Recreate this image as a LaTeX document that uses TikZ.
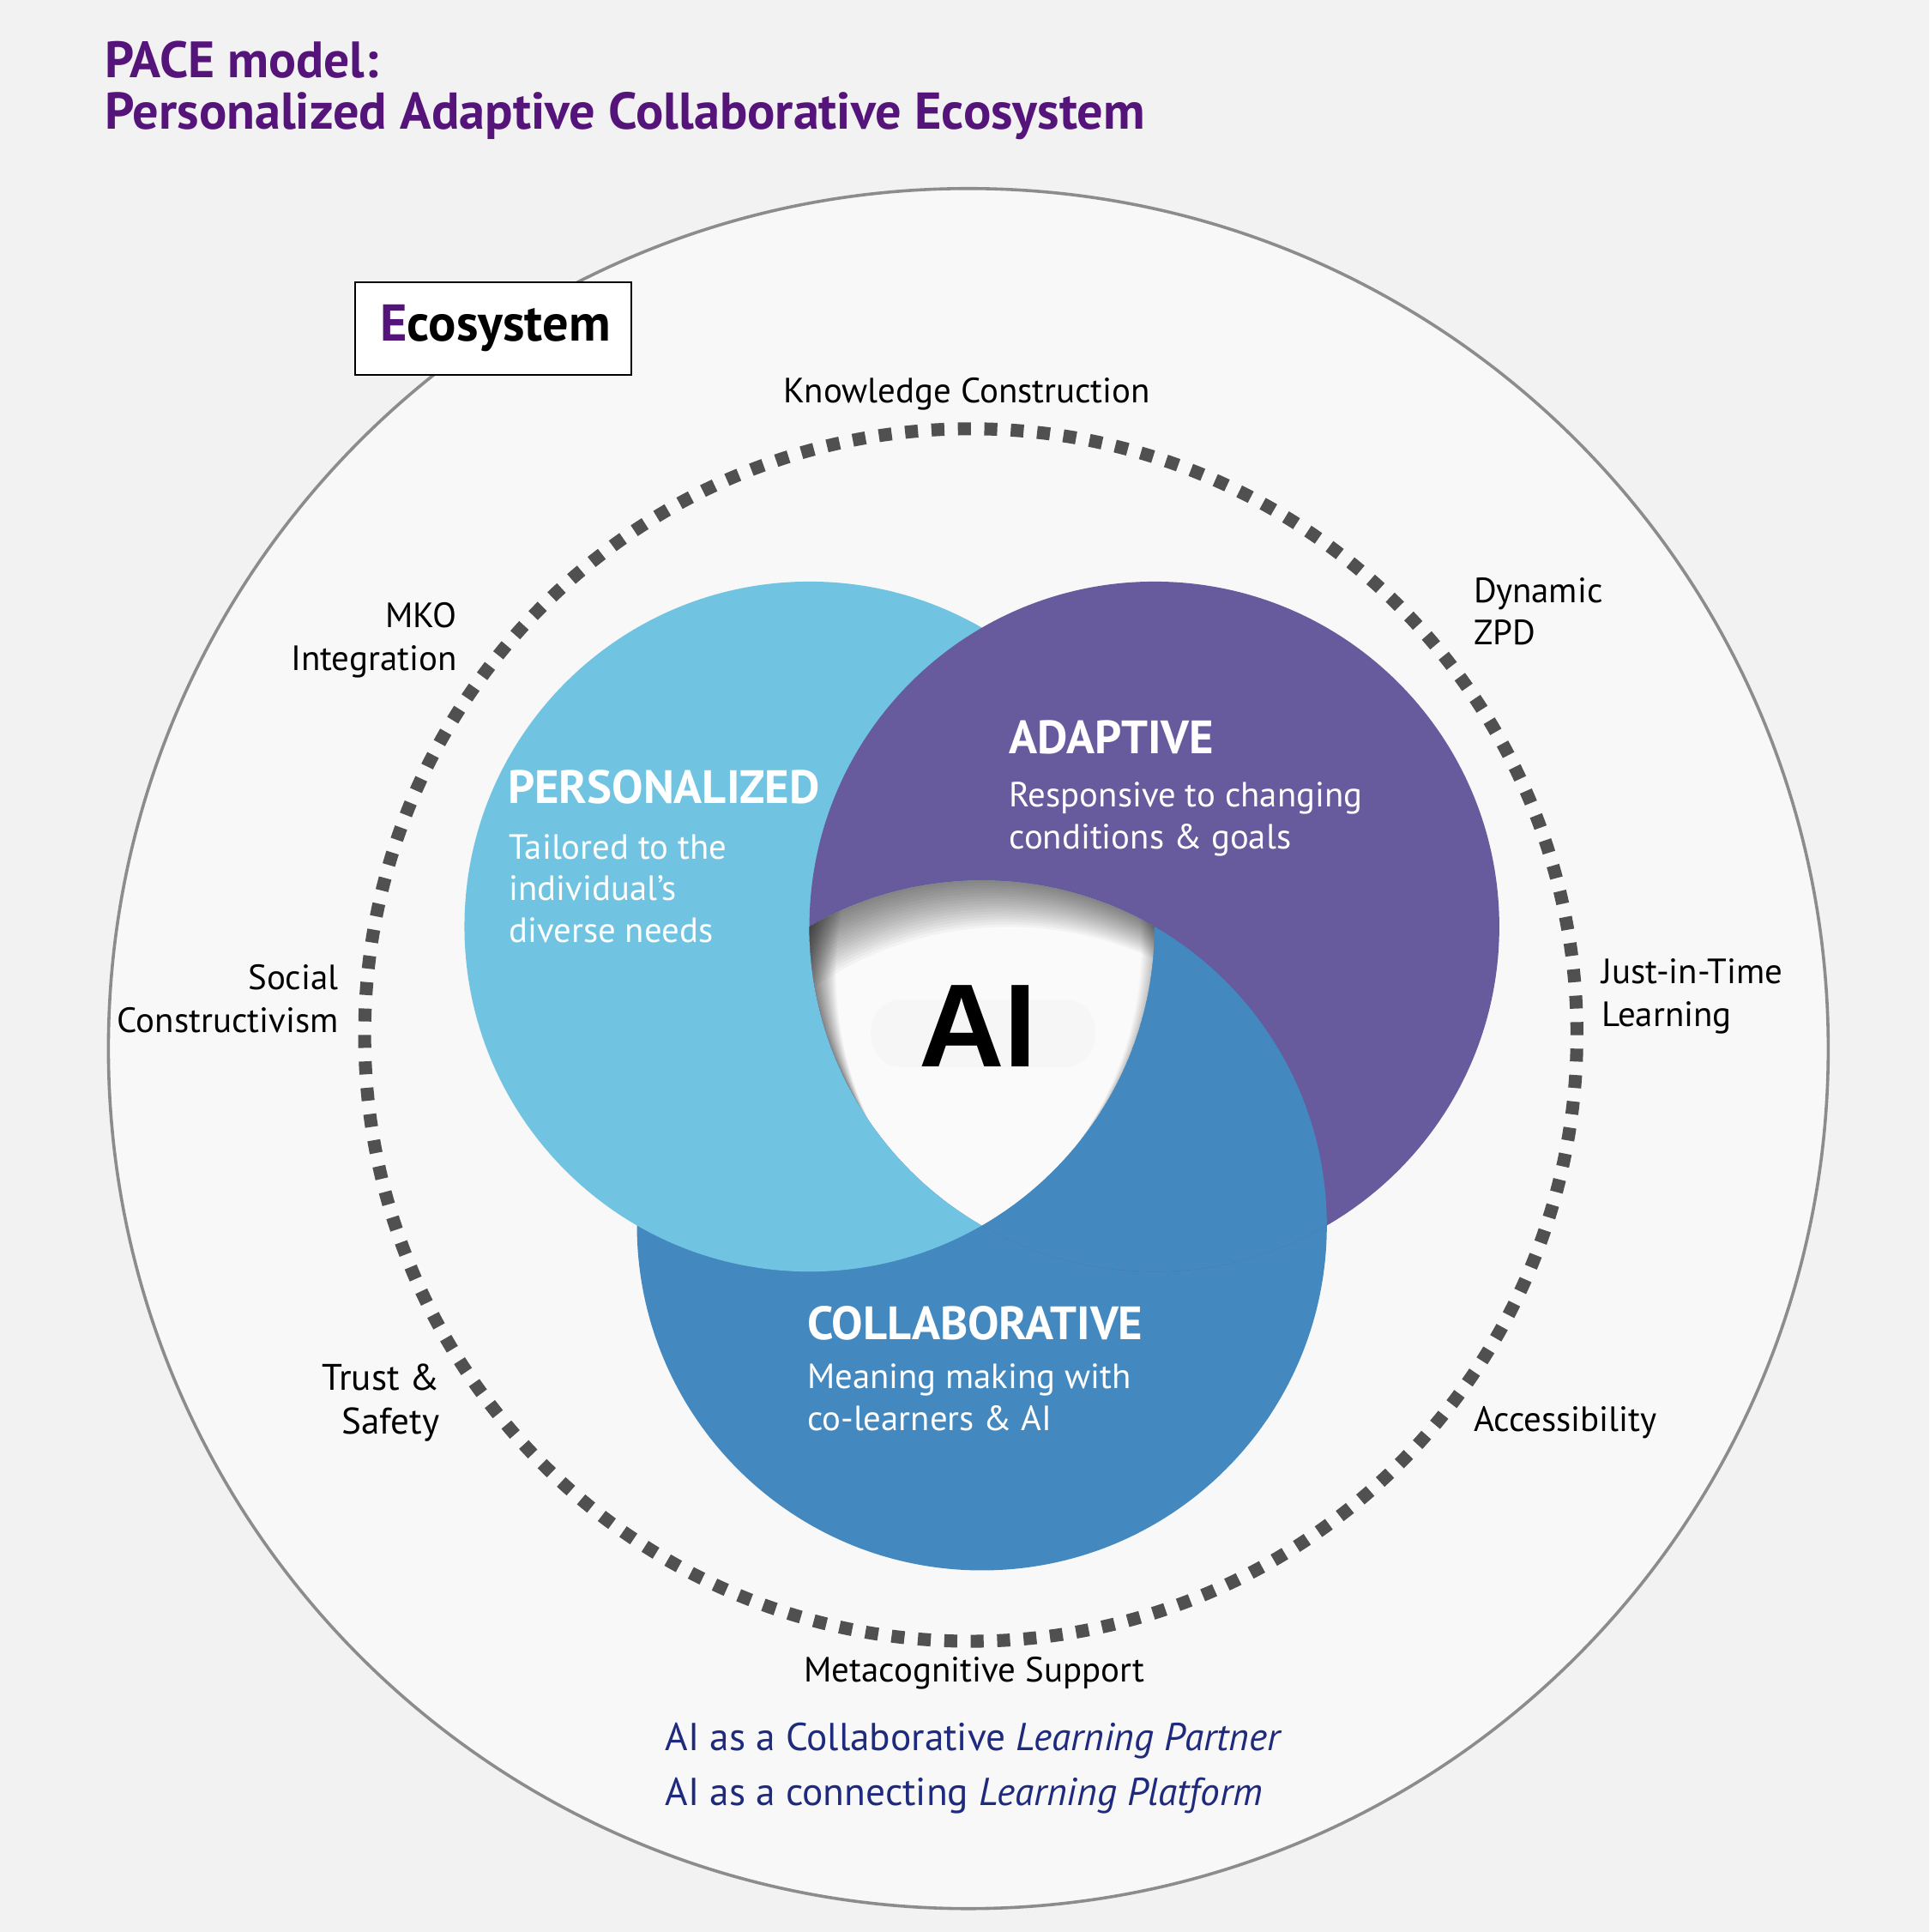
\documentclass[tikz,border=0pt]{standalone}
\usepackage{fontspec}
\setmainfont{PT Sans}
\newfontfamily\aifont{Liberation Sans}
\definecolor{bgc}{HTML}{F2F2F2}
\definecolor{ecofill}{HTML}{F8F8F8}
\definecolor{ringc}{HTML}{8C8C8C}
\definecolor{dotc}{HTML}{505050}
\definecolor{pcol}{HTML}{70C4E1}
\definecolor{acol}{HTML}{675A9D}
\definecolor{ccol}{HTML}{4388BF}
\definecolor{ttl}{HTML}{55147A}
\definecolor{navy}{HTML}{1E2A7E}
\definecolor{centerc}{HTML}{FAFAFA}
\definecolor{aibox}{HTML}{F6F6F6}
\newcommand{\fsz}[1]{\fontsize{#1}{#1}\selectfont}
\begin{document}
\begin{tikzpicture}[x=1pt,y=-1pt,
  lblW/.style={anchor=base west, inner sep=0pt, font=\fsz{28.5}, text=black},
  lblE/.style={anchor=base east, inner sep=0pt, font=\fsz{28.5}, text=black},
  lblC/.style={anchor=base, inner sep=0pt, font=\fsz{28.5}, text=black},
  head/.style={anchor=base west, inner sep=0pt, font=\bfseries\fsz{38}, text=white},
  body/.style={anchor=base west, inner sep=0pt, font=\fsz{28.4}, text=white},
  ttlstyle/.style={anchor=base west, inner sep=0pt, font=\bfseries\fsz{42}, text=ttl},
  bottomstyle/.style={anchor=base west, inner sep=0pt, font=\fsz{31.6}, text=navy},
  shadowlayer/.style={black, opacity=0.03, even odd rule}]
\fill[bgc] (0,0) rectangle (1566,1568);
\useasboundingbox (0,0) rectangle (1566,1568);
% outer ecosystem circle
\draw[ringc, line width=2.5pt, fill=ecofill] (786,851) circle (698pt);
% dotted ring
\draw[dotc, line width=10.5pt, dash pattern=on 10.5pt off 10.97pt] (788,840) circle (492pt);
% three circles
\coordinate (P) at (657,752);
\coordinate (A) at (937,752);
\coordinate (C) at (797,994.5);
\fill[ccol] (C) circle (280pt);
\fill[pcol] (P) circle (280pt);
\fill[acol] (A) circle (280pt);
\begin{scope}
  \clip (A) circle (280pt);
  \fill[ccol] (C) circle (280pt);
\end{scope}
% white centre with inner shadow
\begin{scope}
  \clip (P) circle (280pt);
  \clip (A) circle (280pt);
  \clip (C) circle (280pt);
  \fill[centerc] (600,650) rectangle (1000,1050);
  \fill[aibox, rounded corners=25pt] (707,811) rectangle (889,866);
  \foreach \s in {1,...,18}{
    \fill[shadowlayer] (560,620) rectangle (1040,1060)
      ([shift={(1.2*\s,2.1*\s)}]C) circle (280pt);
    \fill[shadowlayer] (560,620) rectangle (1040,1060)
      ([shift={(1.2*\s,2.1*\s)}]A) circle (280pt);
    \fill[shadowlayer, opacity=0.012] (560,620) rectangle (1040,1060)
      ([shift={(-0.6*\s,0.8*\s)}]P) circle (280pt);
  }
\end{scope}
% Ecosystem box
\node[draw=black, line width=1.5pt, fill=white, minimum width=224pt, minimum height=75pt, inner sep=0pt] (ecobox) at (400.5,266.5) {};
\node[anchor=base, inner sep=0pt, font=\bfseries\fsz{42}] (ecotext) at (402,277) {{\color{ttl}E}cosystem};
% title
\node[ttlstyle, font=\bfseries\fsz{41.5}] (t1) at (85,63) {PACE model:};
\node[ttlstyle] (t2) at (85,105) {Personalized Adaptive Collaborative Ecosystem};
% ring labels
\node[lblC] (kc) at (785,327) {Knowledge Construction};
\node[lblW] (dz1) at (1196,489) {Dynamic};
\node[lblW] (dz2) at (1196,523) {ZPD};
\node[lblE] (mko1) at (371,509) {MKO};
\node[lblE] (mko2) at (371,544) {Integration};
\node[lblW] (jit1) at (1300,798) {Just-in-Time};
\node[lblW] (jit2) at (1300,833) {Learning};
\node[lblE] (sc1) at (275,803) {Social};
\node[lblE] (sc2) at (275,838) {Constructivism};
\node[lblE, font=\fsz{30}] (ts1) at (357,1128) {Trust \&};
\node[lblE, font=\fsz{30}] (ts2) at (357,1164) {Safety};
\node[lblW] (acc) at (1196,1162) {Accessibility};
\node[lblC] (meta) at (791,1365) {Metacognitive Support};
% circle texts
\node[head] (ph) at (412,652) {PERSONALIZED};
\node[body] (pb1) at (413,697) {Tailored to the};
\node[body] (pb2) at (413,731) {individual’s};
\node[body] (pb3) at (413,765) {diverse needs};
\node[head] (ah) at (819,612) {ADAPTIVE};
\node[body] (ab1) at (819,655) {Responsive to changing};
\node[body] (ab2) at (819,689) {conditions \& goals};
\node[head] (ch) at (655,1087) {COLLABORATIVE};
\node[body] (cb1) at (655,1127) {Meaning making with};
\node[body] (cb2) at (655,1161) {co-learners \& AI};
\node[anchor=base, inner sep=0pt, font=\aifont\bfseries\fsz{96}] (ai) at (794,866) {AI};
% bottom lines
\node[bottomstyle] (bl1) at (540,1421) {AI as a Collaborative \textit{Learning Partner}};
\node[bottomstyle] (bl2) at (540,1465) {AI as a connecting \textit{Learning Platform}};
\end{tikzpicture}
\end{document}
